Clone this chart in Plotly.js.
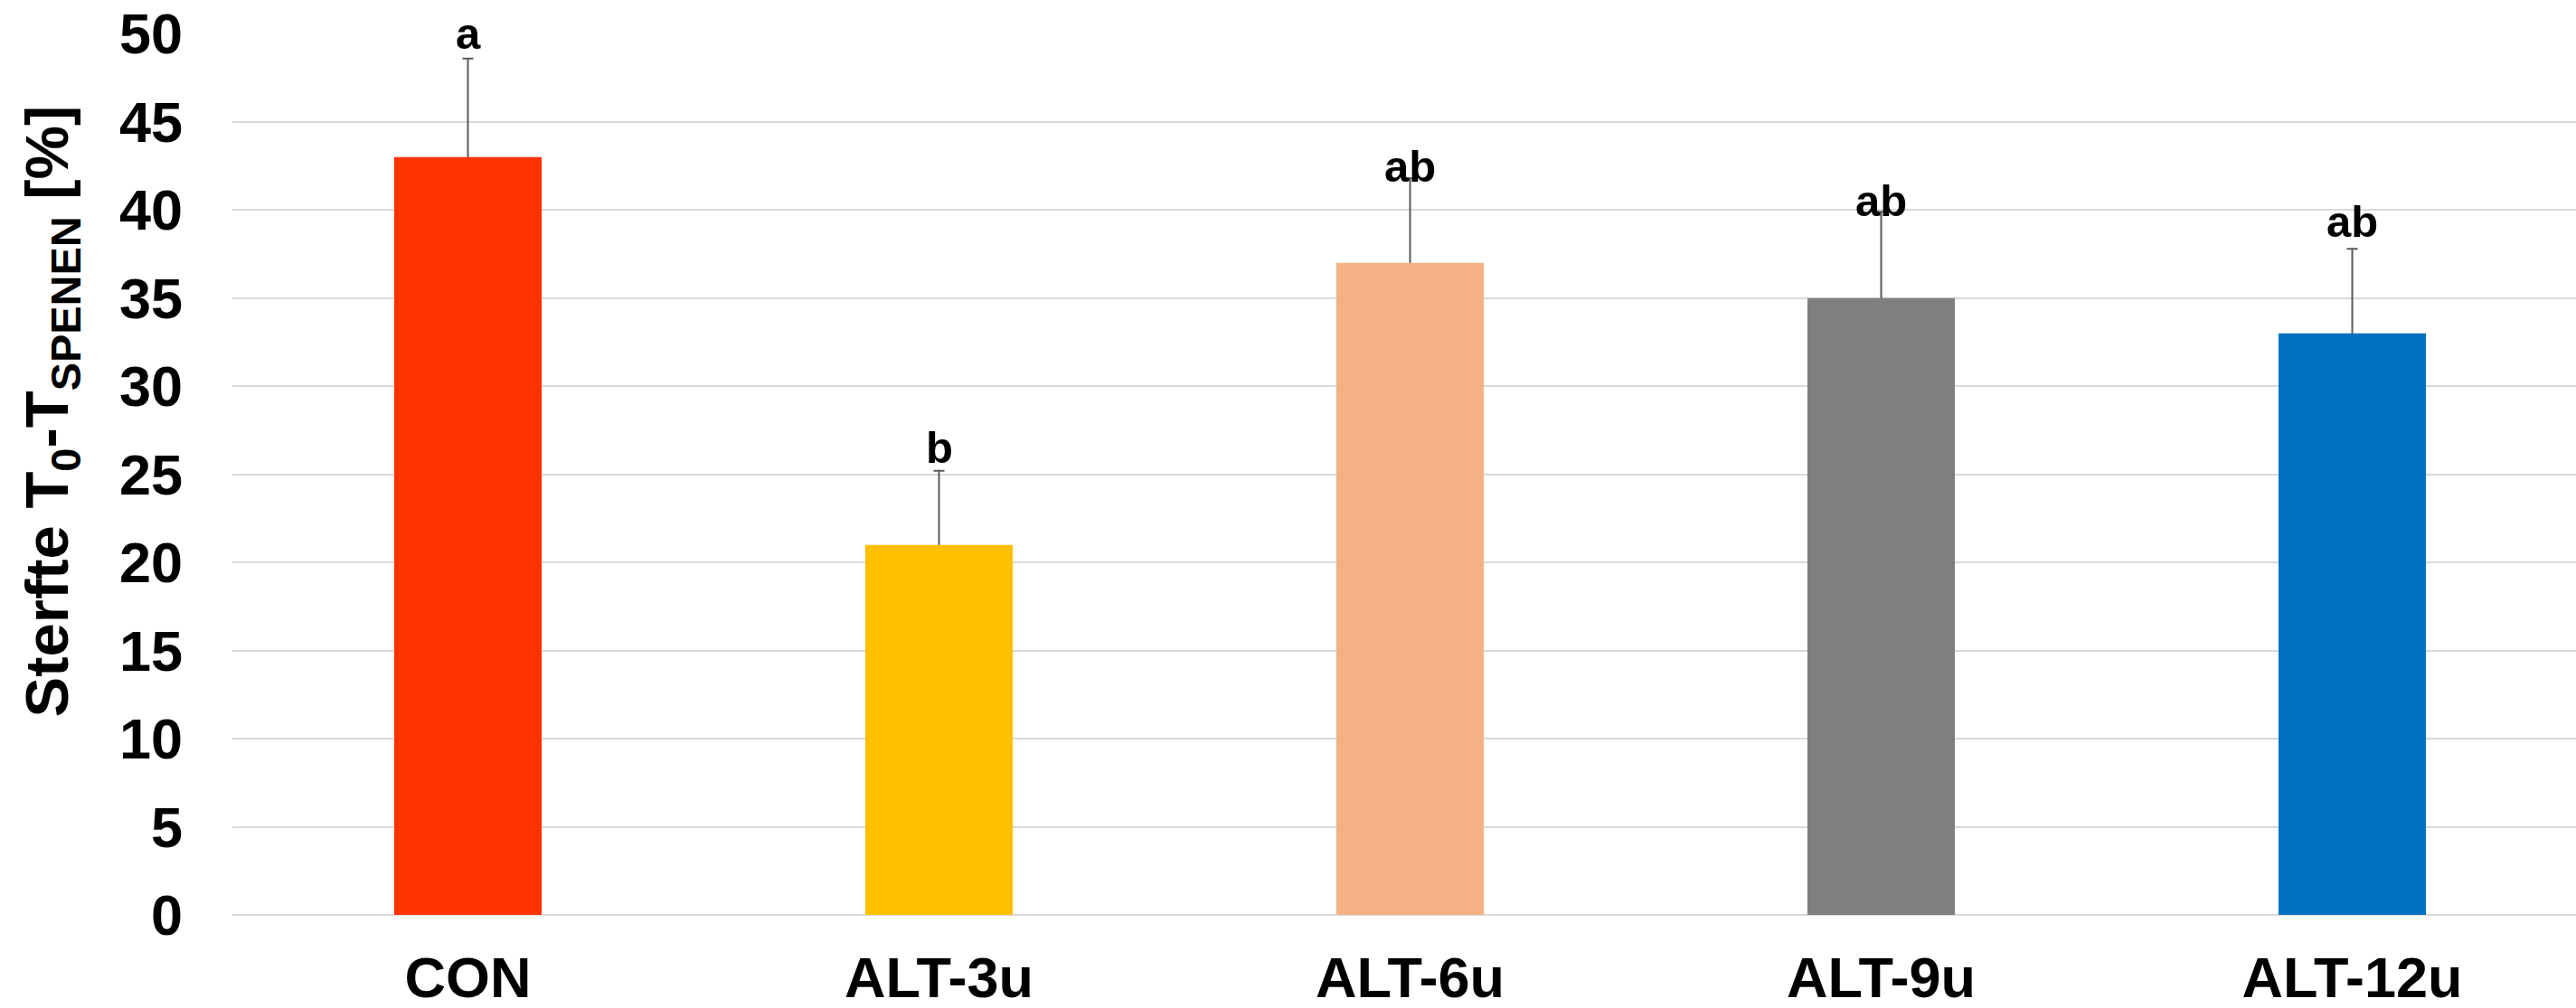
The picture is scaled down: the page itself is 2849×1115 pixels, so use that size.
<!DOCTYPE html>
<html>
<head>
<meta charset="utf-8">
<script src="https://cdn.plot.ly/plotly-3.0.1.min.js"></script>
<style>
  html, body { margin: 0; padding: 0; background: #ffffff; }
  #chart { width: 2849px; height: 1115px; }
</style>
</head>
<body>
<div id="chart"></div>
<script>
// ---- data ----
var categories = ['CON', 'ALT-3u', 'ALT-6u', 'ALT-9u', 'ALT-12u'];
var mortality = [43, 21, 37, 35, 33];          // Sterfte T0-TSPENEN [%]
var errorUp = [5.6, 4.2, 4.8, 4.9, 4.8];        // upper error
var sigLetters = ['a', 'b', 'ab', 'ab', 'ab'];
var yTickVals = [0, 5, 10, 15, 20, 25, 30, 35, 40, 45, 50];

// ---- styles ----
var barColors = ['#FF3300', '#FFC000', '#F4B183', '#7F7F7F', '#0070C0'];
var letterShift = [-1, -3, -16, -17, 1];         // pixel nudges of the letters
var FONT = 'Liberation Sans, Arial, Helvetica, sans-serif';

var errTrace = {
  type: 'bar',
  x: categories,
  y: mortality,
  marker: { color: 'rgba(0,0,0,0)' },
  error_y: { type: 'data', array: errorUp, symmetric: true, color: '#595959', thickness: 2, width: 6 },
  hoverinfo: 'skip',
  showlegend: false
};

var barTrace = {
  type: 'bar',
  x: categories,
  y: mortality,
  marker: { color: barColors, line: { width: 0 } },
  showlegend: false
};

var annotations = categories.map(function (c, i) {
  return {
    x: c, y: mortality[i] + errorUp[i], xref: 'x', yref: 'y',
    text: sigLetters[i], showarrow: false,
    xanchor: 'center', yanchor: 'bottom', yshift: letterShift[i],
    font: { family: FONT, size: 49, color: '#000000', weight: 'bold' }
  };
});

annotations.push({
  xref: 'paper', yref: 'paper', x: -0.0775, y: 0.571,
  xanchor: 'center', yanchor: 'middle', textangle: -90, showarrow: false,
  text: 'Sterfte T<sub>0</sub>-T<sub>SPENEN</sub> [%]',
  font: { family: FONT, size: 67, color: '#000000', weight: 'bold' }
});

var layout = {
  width: 2849, height: 1115,
  margin: { l: 257, r: 0, t: 37, b: 103, pad: 0 },
  paper_bgcolor: '#ffffff', plot_bgcolor: '#ffffff',
  barmode: 'overlay',
  bargap: 0.687,
  showlegend: false,
  xaxis: {
    type: 'category',
    range: [-0.5, 4.475],
    showgrid: false, zeroline: false, showline: false, ticks: '',
    ticklabelstandoff: 27,
    tickfont: { family: FONT, size: 63, color: '#000000', weight: 'bold' },
    fixedrange: true
  },
  yaxis: {
    range: [0, 50.02],
    tickvals: yTickVals,
    showgrid: true, gridcolor: '#D9D9D9', gridwidth: 2,
    zeroline: true, zerolinecolor: '#D9D9D9', zerolinewidth: 2,
    showline: false, ticks: '',
    ticklabelstandoff: 54,
    tickfont: { family: FONT, size: 63, color: '#000000', weight: 'bold' },
    fixedrange: true
  },
  annotations: annotations
};

Plotly.newPlot('chart', [errTrace, barTrace], layout, { displayModeBar: false, staticPlot: true });
</script>
</body>
</html>
